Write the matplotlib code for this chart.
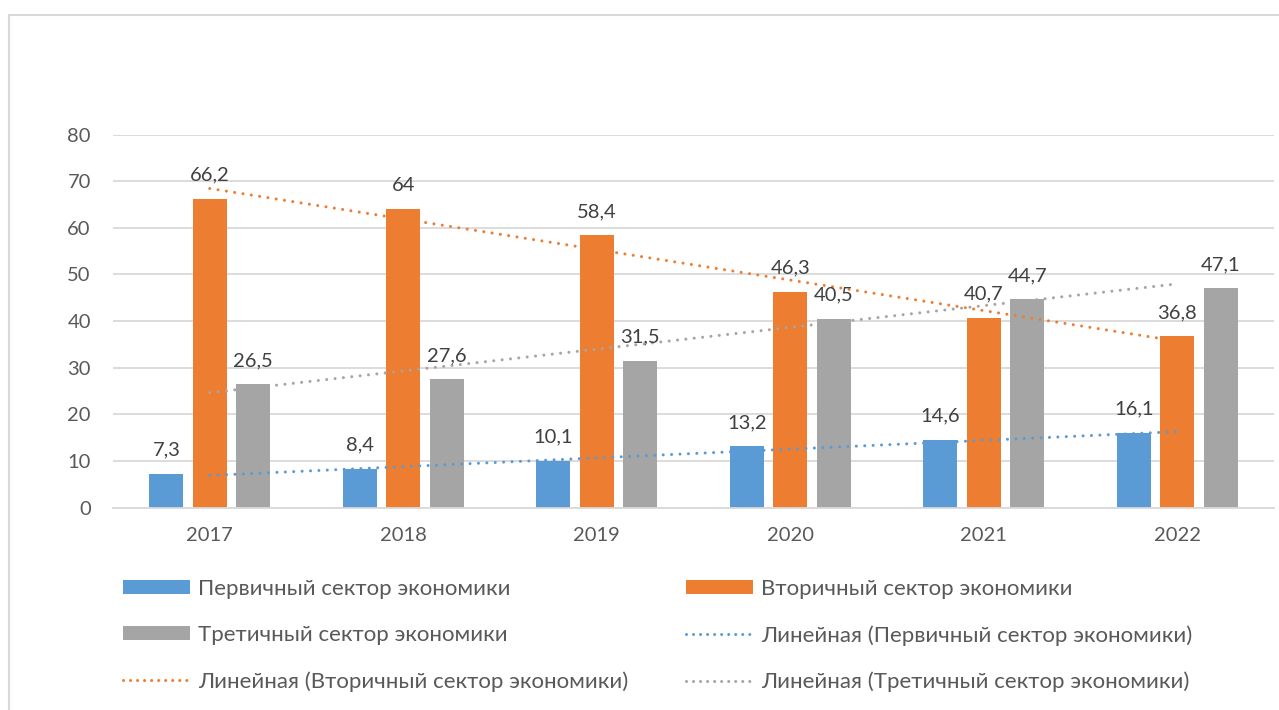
import numpy as np
import matplotlib
matplotlib.use("Agg")
import matplotlib.pyplot as plt
from matplotlib.patches import Patch, Rectangle
from matplotlib.lines import Line2D

plt.rcParams['font.family'] = ['Lato', 'DejaVu Sans']

years = ["2017", "2018", "2019", "2020", "2021", "2022"]
primary = [7.3, 8.4, 10.1, 13.2, 14.6, 16.1]
secondary = [66.2, 64, 58.4, 46.3, 40.7, 36.8]
tertiary = [26.5, 27.6, 31.5, 40.5, 44.7, 47.1]
series_names = ["Первичный сектор экономики", "Вторичный сектор экономики", "Третичный сектор экономики"]
trend_prefix = "Линейная"
y_ticks = [0, 10, 20, 30, 40, 50, 60, 70, 80]

colors = ["#5B9BD5", "#ED7D31", "#A5A5A5"]
W, H = 1279, 710
DPI = 100
fig = plt.figure(figsize=(W / DPI, H / DPI), dpi=DPI)

# chart border
fig.patches.append(Rectangle((9 / W, -0.1), 1.2, (H - 15) / H + 0.1, transform=fig.transFigure,
                             fill=False, edgecolor="#D9D9D9", linewidth=1.5))

ax = fig.add_axes([113 / W, (H - 507.7) / H, (1274 - 113) / W, (507.7 - 134.5) / H])
x = np.arange(len(years))
bw = 0.175
off = 0.224
fs = 14.5
lfs = 16
label_color = "#404040"
tick_color = "#595959"

data = [primary, secondary, tertiary]
for i, (vals, c) in enumerate(zip(data, colors)):
    ax.bar(x + (i - 1) * off, vals, width=bw, color=c, zorder=2)
    for xi, v in zip(x + (i - 1) * off, vals):
        lbl = f"{v:g}".replace(".", ",")
        ax.annotate(lbl, (xi, v), xytext=(0, 13), textcoords="offset points",
                    ha="center", va="baseline", fontsize=fs, color=label_color, zorder=5)

# linear trendlines
for vals, c in zip(data, colors):
    t = np.arange(1, len(vals) + 1)
    k, b0 = np.polyfit(t, vals, 1)
    yy = k * t + b0
    ax.plot(x, yy, color=c, lw=2.2, linestyle=(0, (0.001, 2.75)),
            dash_capstyle="round", zorder=4)

ax.set_xlim(-0.5, len(years) - 0.5)
ax.set_ylim(0, 80)
ax.set_yticks(y_ticks)
ax.set_xticks(x)
ax.set_xticklabels(years)
ax.yaxis.grid(True, color="#D9D9D9", lw=1.3, zorder=0)
ax.set_axisbelow(True)
for s in ["top", "right", "left"]:
    ax.spines[s].set_visible(False)
ax.spines["bottom"].set_color("#D9D9D9")
ax.spines["bottom"].set_linewidth(1.3)
ax.tick_params(axis="both", length=0, labelsize=fs, labelcolor=tick_color)
ax.tick_params(axis="y", pad=16)
ax.tick_params(axis="x", pad=14)

# legend
bar_handles = [Patch(facecolor=c, edgecolor="none") for c in colors]
lin_handles = [Line2D([0], [0], color=c, lw=2.2, linestyle=(0, (0.001, 2.3)), dash_capstyle="round")
               for c in colors]
lin_labels = [f"{trend_prefix} ({n})" for n in series_names]

col1_h = [bar_handles[0], bar_handles[2], lin_handles[1]]
col1_l = [series_names[0], series_names[2], lin_labels[1]]
col2_h = [bar_handles[1], lin_handles[0], lin_handles[2]]
col2_l = [series_names[1], lin_labels[0], lin_labels[2]]

common = dict(loc="upper left", frameon=False, borderpad=0, borderaxespad=0,
              handlelength=3.02, handletextpad=0.36, labelspacing=1.17, fontsize=lfs,
              labelcolor=tick_color, handleheight=0.63)
top = (H - 579) / H
fig.legend(col1_h, col1_l, bbox_to_anchor=(123 / W, top), **common)
fig.legend(col2_h, col2_l, bbox_to_anchor=(686 / W, top), **common)

fig.savefig("out.png", dpi=DPI)
